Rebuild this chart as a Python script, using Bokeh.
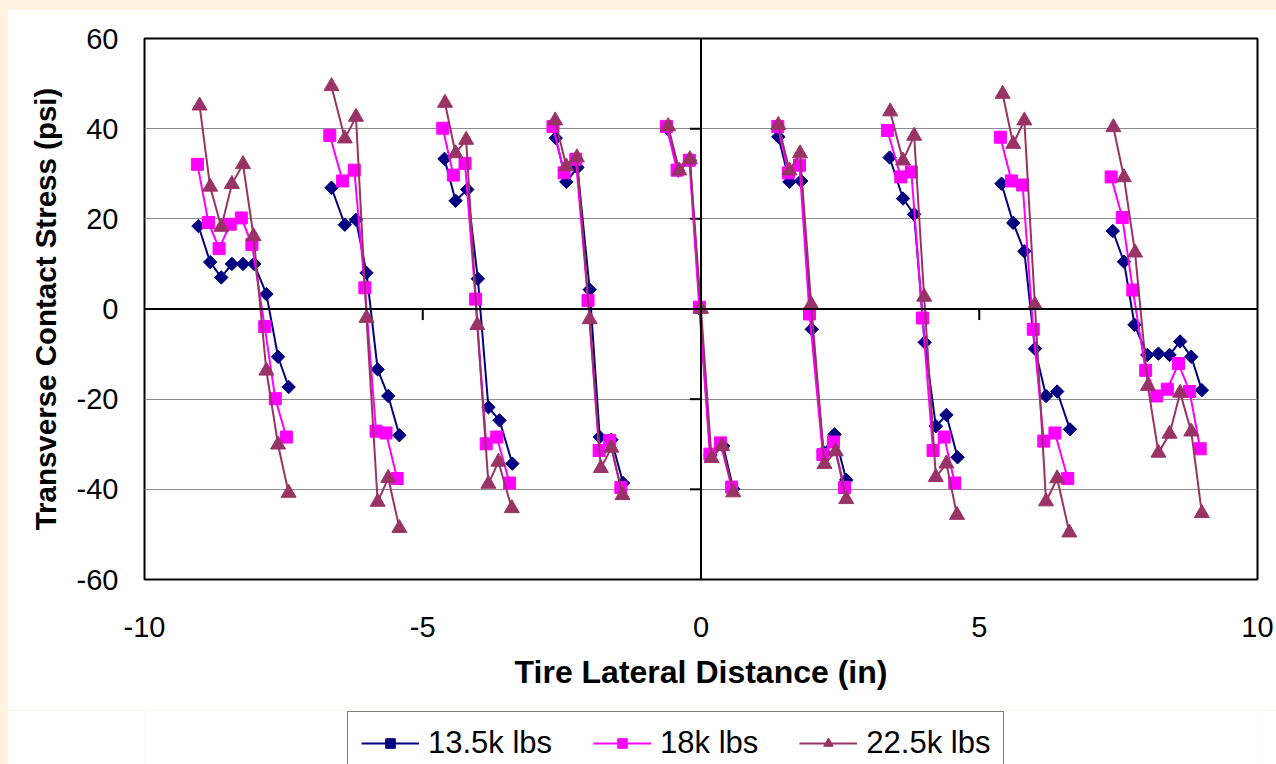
import math
from bokeh.plotting import figure
from bokeh.models import Span, Legend, LegendItem, FixedTicker
from bokeh.layouts import column
from bokeh.embed import file_html
from bokeh.resources import INLINE

# ---------------- data ----------------
series_names = ["13.5k lbs", "18k lbs", "22.5k lbs"]

navy_x = [
    [-9.03, -8.82, -8.62, -8.43, -8.23, -8.03, -7.81, -7.60, -7.41],
    [-6.64, -6.40, -6.20, -6.01, -5.81, -5.62, -5.42],
    [-4.61, -4.41, -4.20, -4.01, -3.82, -3.62, -3.39],
    [-2.61, -2.42, -2.22, -2.00, -1.82, -1.61, -1.40],
    [-0.59, -0.41, -0.20, -0.02, 0.17, 0.40, 0.58],
    [1.39, 1.59, 1.80, 1.99, 2.20, 2.40, 2.61],
    [3.39, 3.63, 3.83, 4.02, 4.22, 4.41, 4.61],
    [5.40, 5.61, 5.81, 6.00, 6.20, 6.40, 6.63],
    [7.40, 7.60, 7.79, 8.02, 8.22, 8.42, 8.61, 8.81, 9.00],
]
navy_y = [
    [18.4, 10.4, 7.0, 10.0, 10.0, 10.0, 3.3, -10.6, -17.3],
    [26.9, 18.7, 19.8, 8.0, -13.4, -19.3, -28.0],
    [33.3, 24.0, 26.5, 6.7, -21.8, -24.7, -34.3],
    [37.9, 28.2, 31.4, 4.3, -28.4, -29.0, -38.6],
    [39.9, 30.7, 33.0, 0.0, -32.4, -30.4, -39.9],
    [38.2, 28.2, 28.4, -4.5, -31.7, -27.8, -37.9],
    [33.6, 24.5, 21.0, -7.4, -26.0, -23.5, -32.9],
    [27.8, 19.1, 12.8, -8.8, -19.3, -18.3, -26.7],
    [17.3, 10.5, -3.5, -10.2, -9.9, -10.2, -7.2, -10.6, -18.0],
]

magenta_x = [
    [-9.05, -8.85, -8.66, -8.46, -8.26, -8.07, -7.84, -7.65, -7.45],
    [-6.67, -6.44, -6.23, -6.04, -5.84, -5.66, -5.46],
    [-4.64, -4.45, -4.24, -4.05, -3.86, -3.67, -3.44],
    [-2.66, -2.46, -2.25, -2.03, -1.83, -1.64, -1.44],
    [-0.62, -0.43, -0.21, -0.03, 0.16, 0.35, 0.55],
    [1.38, 1.57, 1.77, 1.95, 2.19, 2.38, 2.58],
    [3.35, 3.59, 3.78, 3.98, 4.17, 4.37, 4.56],
    [5.38, 5.58, 5.78, 5.97, 6.16, 6.36, 6.59],
    [7.37, 7.57, 7.76, 7.99, 8.19, 8.38, 8.58, 8.78, 8.97],
]
magenta_y = [
    [32.1, 19.2, 13.4, 18.8, 20.2, 14.3, -3.9, -19.9, -28.4],
    [38.5, 28.4, 30.8, 4.7, -27.1, -27.5, -37.6],
    [40.1, 29.7, 32.3, 2.2, -29.9, -28.4, -38.6],
    [40.5, 30.2, 33.2, 1.9, -31.4, -29.2, -39.6],
    [40.5, 30.8, 33.0, 0.4, -32.2, -29.7, -39.5],
    [40.5, 30.2, 31.9, -1.1, -32.3, -29.5, -39.6],
    [39.6, 29.3, 30.4, -2.0, -31.4, -28.4, -38.6],
    [38.1, 28.4, 27.5, -4.5, -29.3, -27.5, -37.6],
    [29.3, 20.3, 4.2, -13.6, -19.3, -17.8, -12.1, -18.3, -31.0],
]

tri_x = [
    [-9.01, -8.82, -8.62, -8.43, -8.23, -8.04, -7.81, -7.60, -7.41],
    [-6.64, -6.40, -6.20, -6.01, -5.81, -5.62, -5.42],
    [-4.60, -4.41, -4.22, -4.02, -3.82, -3.64, -3.40],
    [-2.62, -2.42, -2.23, -2.00, -1.80, -1.61, -1.41],
    [-0.59, -0.39, -0.20, 0.00, 0.19, 0.38, 0.58],
    [1.39, 1.59, 1.78, 1.98, 2.22, 2.42, 2.61],
    [3.40, 3.63, 3.83, 4.01, 4.22, 4.41, 4.60],
    [5.42, 5.61, 5.81, 6.00, 6.20, 6.40, 6.62],
    [7.41, 7.60, 7.80, 8.03, 8.22, 8.42, 8.61, 8.81, 9.00],
]
tri_y = [
    [45.1, 27.1, 18.2, 27.7, 32.1, 16.1, -13.7, -30.1, -40.8],
    [49.4, 37.8, 42.6, -2.0, -42.8, -37.5, -48.6],
    [45.7, 34.5, 37.5, -3.6, -38.8, -33.9, -44.2],
    [41.8, 31.6, 33.6, -2.3, -35.3, -30.8, -41.3],
    [40.5, 30.7, 33.2, 0.0, -33.1, -30.4, -40.7],
    [40.8, 30.7, 34.5, 1.0, -34.4, -31.6, -42.2],
    [43.8, 32.9, 38.4, 2.7, -37.3, -34.3, -45.7],
    [47.7, 36.6, 41.8, 0.9, -42.7, -37.6, -49.6],
    [40.3, 29.2, 12.5, -17.1, -31.9, -27.7, -18.6, -27.2, -45.3],
]

x_ticks = [-10, -5, 0, 5, 10]
y_ticks = [-60, -40, -20, 0, 20, 40, 60]
x_title = "Tire Lateral Distance (in)"
y_title = "Transverse Contact Stress (psi)"

# ---------------- styling ----------------
FONT = "Liberation Sans"
CREAM = "#FFF2DE"
colors = ["#000080", "#FF00FF", "#993366"]
markers = ["square", "square", "triangle"]
angles = [math.pi / 4, 0.0, 0.0]
msizes = [9.5, 12, 15]

BORDER_L, BORDER_R = 137, 19

p = figure(width=1269, height=701, x_range=(-10, 10), y_range=(-60, 60),
           output_backend="svg", toolbar_location=None,
           min_border_left=BORDER_L, min_border_right=BORDER_R,
           min_border_top=29, min_border_bottom=131)
p.margin = (9, 0, 0, 7)
p.background_fill_color = "white"
p.border_fill_color = "white"
p.outline_line_color = "black"
p.outline_line_width = 2

# axes (labels only, at the frame edges)
p.xaxis.ticker = FixedTicker(ticks=x_ticks)
p.yaxis.ticker = FixedTicker(ticks=y_ticks)
p.xaxis.major_label_overrides = {t: str(t) for t in x_ticks}
p.yaxis.major_label_overrides = {t: str(t) for t in y_ticks}
for ax in (p.xaxis[0], p.yaxis[0]):
    ax.axis_line_color = None
    ax.major_tick_line_color = None
    ax.minor_tick_line_color = None
    ax.major_tick_out = 0
    ax.major_tick_in = 0
    ax.major_label_text_font = FONT
    ax.major_label_text_font_size = "29px"
    ax.major_label_text_color = "black"
    ax.axis_label_text_font = FONT
    ax.axis_label_text_font_style = "bold"
    ax.axis_label_text_color = "black"
p.xaxis.axis_label = x_title
p.yaxis.axis_label = y_title
p.xaxis.axis_label_text_font_size = "32px"
p.yaxis.axis_label_text_font_size = "29.5px"
p.xaxis.major_label_standoff = 37
p.yaxis.major_label_standoff = 26
p.xaxis.axis_label_standoff = 14
p.yaxis.axis_label_standoff = 12

# grid
p.xgrid.visible = False
p.ygrid.ticker = FixedTicker(ticks=[t for t in y_ticks if t not in (-60, 0, 60)])
p.ygrid.grid_line_color = "#8c8c8c"
p.ygrid.grid_line_width = 1

# zero axis lines
p.add_layout(Span(location=0, dimension="width", line_color="black", line_width=2))
p.add_layout(Span(location=0, dimension="height", line_color="black", line_width=2))

# tick marks on the zero axes
tick_len_y = 2.45   # data units ~ 11 px
tick_len_x = 0.2
xt = [t for t in x_ticks if t not in (-10, 0, 10)]
yt = [t for t in y_ticks if t not in (-60, 0, 60)]
p.segment(x0=xt, y0=[0] * len(xt), x1=xt, y1=[-tick_len_y] * len(xt),
          line_color="black", line_width=2)
p.segment(x0=[0] * len(yt), y0=yt, x1=[-tick_len_x] * len(yt), y1=yt,
          line_color="black", line_width=2)

# legend strip: a second, axis-less figure below the chart (same side borders).
# Its ranges are far away from the data, so its renderers only serve as
# legend swatches.
p2 = figure(width=1269, height=54, x_range=(100, 101), y_range=(100, 101),
            output_backend="svg", toolbar_location=None,
            x_axis_type=None, y_axis_type=None,
            min_border_left=BORDER_L, min_border_right=BORDER_R,
            min_border_top=0, min_border_bottom=0)
p2.margin = (0, 0, 0, 7)
p2.outline_line_color = None
p2.background_fill_color = "white"
p2.border_fill_color = "white"
p2.grid.visible = False

# series
items = []
for name, xs, ys, c, m, a, s in zip(series_names,
                                    [navy_x, magenta_x, tri_x],
                                    [navy_y, magenta_y, tri_y],
                                    colors, markers, angles, msizes):
    p.multi_line(xs=xs, ys=ys, line_color=c, line_width=2)
    fx = [v for g in xs for v in g]
    fy = [v for g in ys for v in g]
    p.scatter(x=fx, y=fy, marker=m, angle=a, size=s,
              fill_color=c, line_color=c)
    # legend swatches (same styling, same data, outside p2's view)
    lr = p2.line(x=fx, y=fy, line_color=c, line_width=2)
    sr = p2.scatter(x=fx, y=fy, marker=m, angle=a, size=s,
                    fill_color=c, line_color=c)
    items.append(LegendItem(label=name, renderers=[lr, sr]))

legend = Legend(items=items, orientation="horizontal", location=(203, -11),
                label_text_font=FONT, label_text_font_size="31px",
                label_text_color="black",
                glyph_width=58, glyph_height=24, label_standoff=9,
                spacing=41, padding=13, margin=0,
                border_line_color="black", border_line_width=1.5,
                background_fill_color="white", background_fill_alpha=1)
p2.add_layout(legend, "center")

layout = column(p, p2, spacing=0, styles={"background-color": CREAM})
open("out.html", "w").write(file_html(layout, INLINE))
